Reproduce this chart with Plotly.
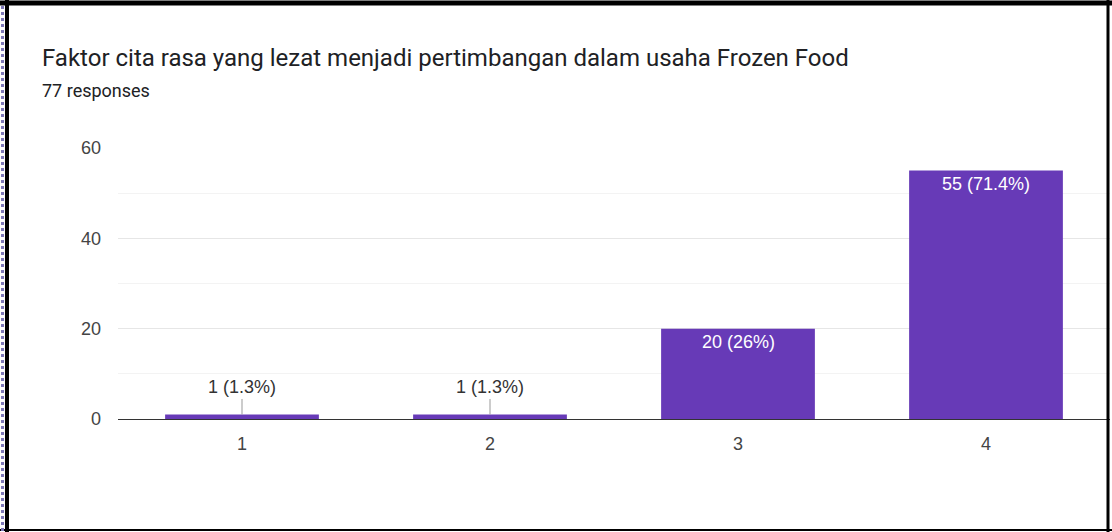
import plotly.graph_objects as go

categories = ["1", "2", "3", "4"]
counts = [1, 1, 20, 55]
labels = ["1 (1.3%)", "1 (1.3%)", "20 (26%)", "55 (71.4%)"]
title_text = "Faktor cita rasa yang lezat menjadi pertimbangan dalam usaha Frozen Food"
subtitle_text = "77 responses"
y_ticks = [0, 20, 40, 60]

W, H = 1112, 532
L, R, T, B = 118, 2, 148, 113
PW, PH = W - L - R, H - T - B

def px(x):
    return (x - L) / PW

def py(y):
    return 1 - (y - T) / PH

BAR = "#673ab7"
TFONT = "Roboto, Arial, sans-serif"
FONT = "Liberation Sans, Arial, sans-serif"

fig = go.Figure(go.Bar(x=categories, y=counts, marker_color=BAR, marker_line_width=0,
                       hoverinfo="skip"))

annotations = []
for i, (v, lab) in enumerate(zip(counts, labels)):
    if v < 5:
        annotations.append(dict(x=i, y=v, xref="x", yref="y", text=lab, showarrow=True,
                                arrowhead=0, arrowwidth=1, arrowcolor="#999999",
                                ax=0, ay=-27, font=dict(family=FONT, size=18, color="#333333")))
    else:
        annotations.append(dict(x=i, y=v, xref="x", yref="y", text=lab, showarrow=False,
                                yanchor="top", yshift=-1,
                                font=dict(family=FONT, size=18, color="#ffffff")))

annotations.append(dict(x=px(40), y=py(58), xref="paper", yref="paper", text=title_text,
                        showarrow=False, xanchor="left", yanchor="middle",
                        font=dict(family=TFONT, size=24, color="#202124")))
annotations.append(dict(x=px(40), y=py(90), xref="paper", yref="paper", text=subtitle_text,
                        showarrow=False, xanchor="left", yanchor="middle",
                        font=dict(family=TFONT, size=18, color="#202124")))

shapes = [
    dict(type="line", xref="paper", yref="paper", x0=px(0), x1=px(W), y0=py(3), y1=py(3),
         line=dict(color="#000000", width=5)),
    dict(type="line", xref="paper", yref="paper", x0=px(7), x1=px(7), y0=py(0), y1=py(H),
         line=dict(color="#000000", width=4)),
    dict(type="line", xref="paper", yref="paper", x0=px(1108), x1=px(1108), y0=py(0), y1=py(H),
         line=dict(color="#000000", width=3)),
    dict(type="line", xref="paper", yref="paper", x0=px(0), x1=px(W), y0=py(530), y1=py(530),
         line=dict(color="#000000", width=2)),
    dict(type="line", xref="paper", yref="paper", x0=px(2.5), x1=px(2.5), y0=py(6), y1=py(H),
         line=dict(color="#7e78b8", width=3, dash="dot")),
]

fig.update_layout(
    width=W, height=H,
    margin=dict(l=L, r=R, t=T, b=B),
    paper_bgcolor="#ffffff", plot_bgcolor="#ffffff",
    bargap=0.38,
    showlegend=False,
    annotations=annotations,
    shapes=shapes,
    font=dict(family=FONT, size=18, color="#444444"),
)
fig.update_xaxes(type="category", range=[-0.5, len(categories) - 0.5], showgrid=False,
                 showline=True, linecolor="#333333", linewidth=1,
                 ticks="", ticklabelstandoff=8,
                 tickfont=dict(family=FONT, size=18, color="#444444"))
fig.update_yaxes(range=[0, 60], tickvals=y_ticks, showgrid=True, gridcolor="#e6e6e6",
                 zeroline=False, ticks="", ticklabelstandoff=16,
                 tickfont=dict(family=FONT, size=18, color="#444444"),
                 minor=dict(dtick=10, showgrid=True, gridcolor="#f3f3f3"))

fig.write_html("out.html", config={"displayModeBar": False},
               post_script="document.body.style.margin='0';")
